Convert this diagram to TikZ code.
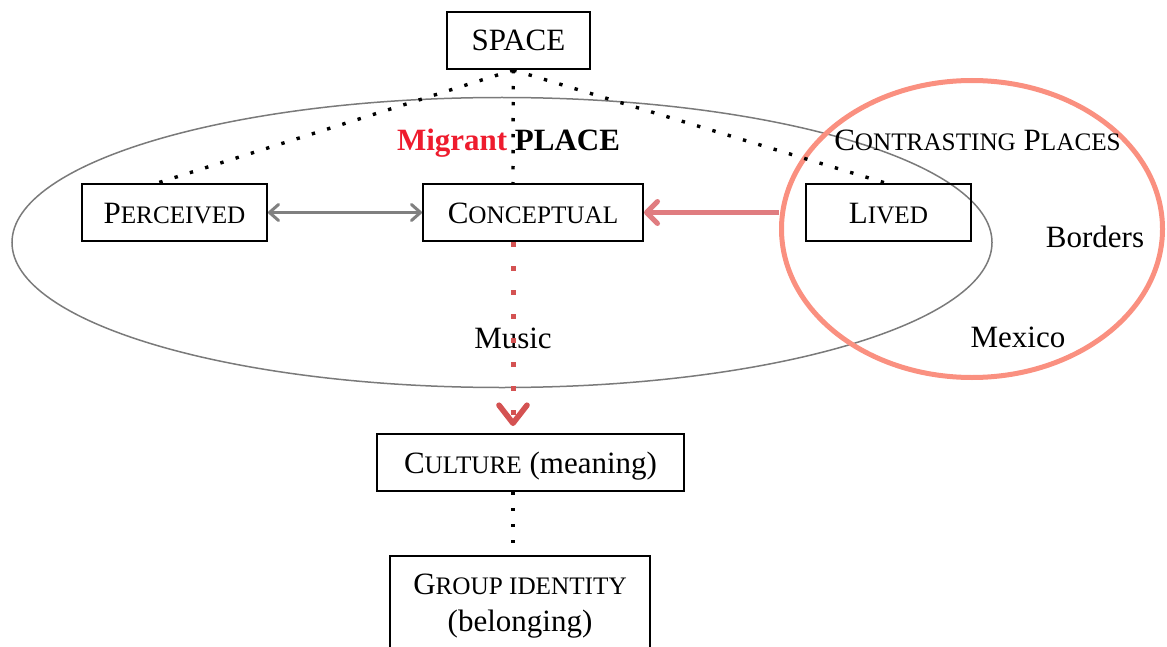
\documentclass[tikz,border=0pt]{standalone}
\usepackage{fontspec}
\setmainfont{Liberation Serif}
\usetikzlibrary{shapes.geometric,arrows.meta}
\definecolor{salmon}{HTML}{FA9080}
\definecolor{redarrow}{HTML}{E07C80}
\definecolor{reddot}{HTML}{D45252}
\definecolor{migred}{HTML}{EE1C2E}
\definecolor{ellgray}{HTML}{7A7A7A}
\definecolor{arrgray}{HTML}{808080}
\newcommand\fsc[2]{#1{\fontsize{12.6}{14}\selectfont #2}}
\begin{document}
\fontsize{15.5}{18.5}\selectfont
\begin{tikzpicture}[x=0.5pt,y=-0.5pt,
  box/.style={draw,line width=1pt,minimum height=28.5pt,inner sep=0pt,text height=11pt,text depth=0.5pt},
  lbl/.style={anchor=base,inner sep=0pt},
  dots/.style={line width=1.7pt,dash pattern=on 1.7pt off 6.3pt},
  reddots/.style={draw=reddot,line width=2.5pt,dash pattern=on 2.5pt off 9.5pt,
    -{Straight Barb[length=9pt,width=14pt,line width=2.8pt,round]}},
  grayarrow/.style={draw=arrgray,line width=1.5pt,
    {Straight Barb[length=4.5pt,width=8pt,round]}-{Straight Barb[length=4.5pt,width=8pt,round]}},
  redarr/.style={draw=redarrow,line width=2.5pt,-{Straight Barb[length=5.5pt,width=11pt,round]}},
  ell/.style={ellipse,inner sep=0pt}]
\useasboundingbox (0,0) rectangle (1167,647);
% ellipses
\node[ell,draw=ellgray,line width=0.75pt,minimum width=490pt,minimum height=145pt] (place) at (502,242.5) {};
\node[ell,draw=salmon,line width=2.5pt,minimum width=190.5pt,minimum height=148.5pt] (contrast) at (972,229) {};
% boxes
\node[box,minimum width=71.5pt] (space) at (518.5,40.5) {SPACE};
\node[box,minimum width=92.5pt] (perc) at (174.5,212.5) {\fsc{P}{ERCEIVED}};
\node[box,minimum width=110pt] (conc) at (533,212.5) {\fsc{C}{ONCEPTUAL}};
\node[box,minimum width=82.5pt] (lived) at (888.5,212.5) {\fsc{L}{IVED}};
\node[box,minimum width=153.5pt] (cult) at (530.5,462.5) {\fsc{C}{ULTURE} (meaning)};
\node[draw,line width=1pt,minimum width=130pt,minimum height=50pt,inner sep=0pt,align=center] (group) at (520,606) {\fsc{G}{ROUP IDENTITY}\\(belonging)};
% labels
\node[lbl,font=\bfseries] (migrant) at (508.5,150) {\textcolor{migred}{Migrant} PLACE};
\node[lbl] (contr) at (977.5,150) {\fsc{C}{ONTRASTING} \fsc{P}{LACES}};
\node[lbl] (borders) at (1095,247) {Borders};
\node[lbl] (mexico) at (1018,347) {Mexico};
\node[lbl] (music) at (513,348) {Music};
% connectors
\coordinate (ax) at (513,0);
\draw[dots] (space.260) -- (perc.120);
\draw[dots] (space.260) -- (ax |- conc.north);
\draw[dots] (space.260) -- (lived.96);
\draw[dots] (ax |- cult.south) -- (ax |- group.north);
\draw[grayarrow] (perc.east) -- (conc.west);
\draw[redarr] (conc.east -| contrast.west) -- (conc.east);
\draw[reddots,shorten >=3.5pt] (ax |- conc.south) -- (ax |- cult.north);
\end{tikzpicture}
\end{document}
